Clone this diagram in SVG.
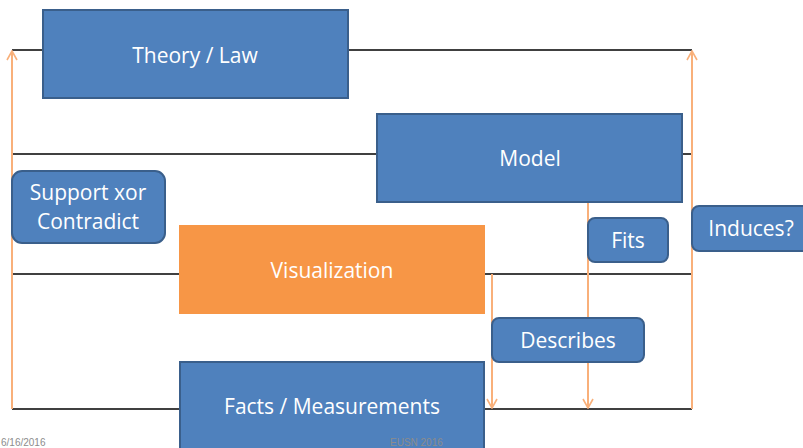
<svg xmlns="http://www.w3.org/2000/svg" width="803" height="448" viewBox="0 0 803 448">
  <style>
    .level { stroke: #000; stroke-width: 1.5; fill: none; }
    .flow { stroke: #F9B07A; stroke-width: 2; fill: none; }
    .box { fill: #4F81BD; stroke: #3A5F8B; stroke-width: 2; }
    .viz { fill: #F79646; }
    .label { font-family: "Open Sans", "Liberation Sans", sans-serif; font-size: 21px; fill: #fff; text-anchor: middle; }
    .footer { font-family: "Liberation Sans", sans-serif; font-size: 10px; fill: #8C8C8C; }
  </style>
  <defs>
    <marker id="chev" viewBox="0 0 12 12" refX="11" refY="6" markerWidth="12" markerHeight="12" markerUnits="userSpaceOnUse" orient="auto">
      <path d="M2 1 L11 6 L2 11" fill="none" stroke="#F9B07A" stroke-width="1.6"/>
    </marker>
  </defs>

  <!-- level lines and flow arrows -->
  <g id="connectors">
    <line class="level" x1="12" y1="50" x2="692" y2="50"/>
    <line class="level" x1="12" y1="154" x2="692" y2="154"/>
    <line class="level" x1="12" y1="274" x2="692" y2="274"/>
    <line class="level" x1="12" y1="409" x2="692" y2="409"/>
    <line class="flow" x1="12" y1="409" x2="12" y2="51" marker-end="url(#chev)"/>
    <line class="flow" x1="692" y1="409" x2="692" y2="51" marker-end="url(#chev)"/>
    <line class="flow" x1="492" y1="274" x2="492" y2="408" marker-end="url(#chev)"/>
    <line class="flow" x1="588" y1="202" x2="588" y2="408" marker-end="url(#chev)"/>
  </g>

  <g id="theory">
    <rect class="box" x="43" y="10" width="305" height="88"/>
    <text class="label" x="195" y="63">Theory / Law</text>
  </g>
  <g id="model">
    <rect class="box" x="377" y="114" width="305" height="88"/>
    <text class="label" x="530" y="166">Model</text>
  </g>
  <g id="visualization">
    <rect class="viz" x="179" y="225" width="306" height="89"/>
    <text class="label" x="332" y="278">Visualization</text>
  </g>
  <g id="facts">
    <rect class="box" x="180" y="362" width="304" height="96"/>
    <text class="label" x="332" y="414">Facts / Measurements</text>
  </g>
  <g id="support">
    <rect class="box" x="12" y="171" width="153" height="72" rx="10"/>
    <text class="label" x="88" y="200">Support xor</text>
    <text class="label" x="88" y="229">Contradict</text>
  </g>
  <g id="fits">
    <rect class="box" x="588" y="218" width="80" height="44" rx="7"/>
    <text class="label" x="628" y="248">Fits</text>
  </g>
  <g id="induces">
    <rect class="box" x="692" y="206" width="120" height="45" rx="7"/>
    <text class="label" x="751" y="236">Induces?</text>
  </g>
  <g id="describes">
    <rect class="box" x="492" y="318" width="152" height="44" rx="7"/>
    <text class="label" x="568" y="348">Describes</text>
  </g>

  <!-- slide footer -->
  <g id="footer">
    <text class="footer" x="1" y="446">6/16/2016</text>
    <text class="footer" x="390" y="446">EUSN 2016</text>
  </g>
</svg>
